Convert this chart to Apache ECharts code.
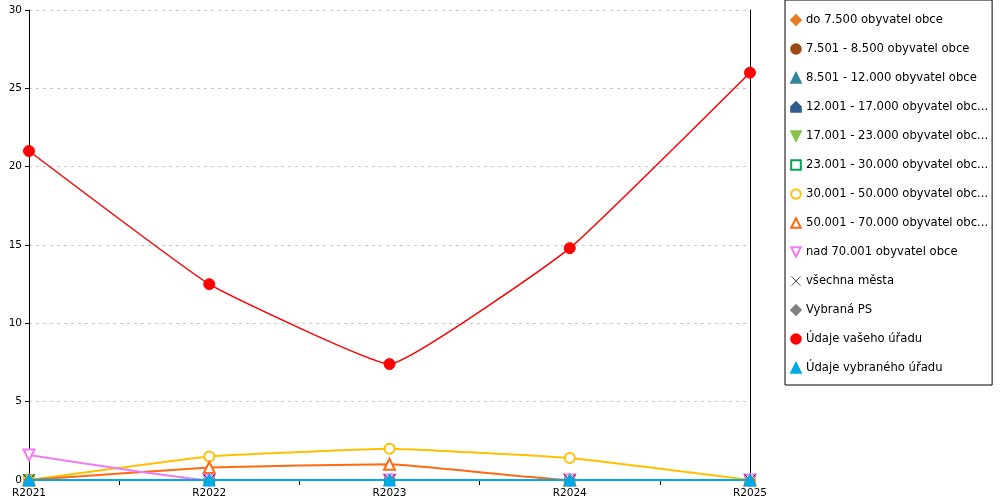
<!DOCTYPE html>
<html>
<head>
<meta charset="utf-8">
<script src="https://cdn.jsdelivr.net/npm/echarts@6/dist/echarts.min.js"></script>
<style>html,body{margin:0;padding:0;background:#fff}#c{width:1000px;height:500px}</style>
</head>
<body>
<div id="c"></div>
<script>
var categories = ['R2021', 'R2022', 'R2023', 'R2024', 'R2025'];
var tickSlots = ['t1', 't2', 't3', 't4'];
var yTicks = { min: 0, max: 30, interval: 5 };

var seriesNames = [
  'do 7.500 obyvatel obce',
  '7.501 - 8.500 obyvatel obce',
  '8.501 - 12.000 obyvatel obce',
  '12.001 - 17.000 obyvatel obce',
  '17.001 - 23.000 obyvatel obce',
  '23.001 - 30.000 obyvatel obce',
  '30.001 - 50.000 obyvatel obce',
  '50.001 - 70.000 obyvatel obce',
  'nad 70.001 obyvatel obce',
  'všechna města',
  'Vybraná PS',
  'Údaje vašeho úřadu',
  'Údaje vybraného úřadu'
];

var do7500 = [0, 0, 0, 0, 0];
var s7501 = [0, 0, 0, 0, 0];
var s8501 = [0, 0, 0, 0, 0];
var s12001 = [0, 0, 0, 0, 0];
var s17001 = [0, 0, 0, 0, 0];
var s23001 = [0, 0, 0, 0, 0];
var s30001 = [0, 1.5, 2.0, 1.4, 0];
var s50001 = [0, 0.8, 1.0, 0, 0];
var nad70001 = [1.6, 0, 0, 0, 0];
var vsechnaMesta = [0, 0, 0, 0, 0];
var vybranaPS = [0, 0, 0, 0, 0];
var vasUrad = [21, 12.5, 7.4, 14.8, 26];
var vybranyUrad = [0, 0, 0, 0, 0];

var seriesData = [do7500, s7501, s8501, s12001, s17001, s23001, s30001, s50001, nad70001, vsechnaMesta, vybranaPS, vasUrad, vybranyUrad];

var colors = ['#EE7722', '#9C4A12', '#31859C', '#2F5A8E', '#8BC34A', '#00A550', '#FFC000', '#FF6A10', '#F07CF0', '#111111', '#808080', '#FF0000', '#00AAE8'];
var symbols = [
  'diamond', 'circle', 'triangle',
  'path://M5,0 L10,5 L10,10 L0,10 L0,5 Z',
  'triangle', 'emptyRect', 'emptyCircle', 'emptyTriangle', 'emptyTriangle',
  'path://M0,0.4 L0.4,0 L5,4.6 L9.6,0 L10,0.4 L5.4,5 L10,9.6 L9.6,10 L5,5.4 L0.4,10 L0,9.6 L4.6,5 Z',
  'diamond', 'circle', 'triangle'
];
var rotates = [0, 0, 0, 0, 180, 0, 0, 0, 180, 0, 0, 0, 0];
var sizes = [10, 10, 10, 10, 10, 9, 10, 11, 11, 12, 10, 11, 12];
var widths = [2, 2, 2, 2, 2, 2, 2, 2, 2, 2, 2, 1.5, 2];
var legendMaxChars = 28;

var series = seriesNames.map(function (n, i) {
  var isCross = i === 9;
  return {
    name: n,
    type: 'line',
    data: seriesData[i],
    smooth: 0.1,
    symbol: symbols[i],
    symbolRotate: rotates[i],
    symbolSize: sizes[i],
    showAllSymbol: true,
    lineStyle: { width: widths[i], color: colors[i] },
    itemStyle: { color: colors[i], borderColor: colors[i], borderWidth: isCross ? 0 : 1 },
    emphasis: { disabled: true },
    z: 2 + i
  };
});

var chart = echarts.init(document.getElementById('c'), null, { renderer: 'canvas' });
chart.setOption({
  animation: false,
  color: colors,
  textStyle: { fontFamily: 'DejaVu Sans' },
  grid: { left: 29, right: 250, top: 10, bottom: 20, containLabel: false },
  legend: {
    orient: 'vertical',
    left: 785,
    top: 0,
    width: 200,
    height: 384,
    padding: [14, 4, 11, 5],
    itemGap: 17,
    itemWidth: 12,
    itemHeight: 12,
    borderColor: '#000',
    borderWidth: 1,
    backgroundColor: '#fff',
    selectedMode: false,
    lineStyle: { width: 0 },
    data: seriesNames,
    formatter: function (name) {
      return name.length > legendMaxChars ? name.slice(0, legendMaxChars) + '...' : name;
    },
    textStyle: { fontFamily: 'DejaVu Sans', fontSize: 11.6, color: '#000', padding: [0, 0, 0, -1] }
  },
  xAxis: [{
    type: 'category',
    data: categories,
    boundaryGap: false,
    axisLine: { show: true, lineStyle: { color: '#000', width: 1 } },
    axisTick: { show: false },
    axisLabel: { color: '#000', fontSize: 10.5, margin: 8, fontFamily: 'DejaVu Sans' },
    splitLine: { show: false }
  }, {
    type: 'category',
    data: tickSlots,
    position: 'bottom',
    boundaryGap: true,
    axisLine: { show: false },
    axisTick: { show: true, alignWithLabel: true, length: 5, lineStyle: { color: '#000' } },
    axisLabel: { show: false },
    splitLine: { show: false }
  }],
  yAxis: [{
    type: 'value',
    min: yTicks.min,
    max: yTicks.max,
    interval: yTicks.interval,
    axisLine: { show: true, lineStyle: { color: '#000', width: 1 } },
    axisTick: { show: true, length: 4, lineStyle: { color: '#000' } },
    axisLabel: { color: '#000', fontSize: 10.5, margin: 7, fontFamily: 'DejaVu Sans' },
    splitLine: { show: true, lineStyle: { color: '#c8c8c8', type: [3, 4], width: 1 } }
  }, {
    type: 'value',
    position: 'right',
    min: yTicks.min,
    max: yTicks.max,
    interval: yTicks.interval,
    axisLine: { show: true, lineStyle: { color: '#000', width: 1 } },
    axisTick: { show: false },
    axisLabel: { show: false },
    splitLine: { show: false }
  }],
  series: series
});
</script>
</body>
</html>
